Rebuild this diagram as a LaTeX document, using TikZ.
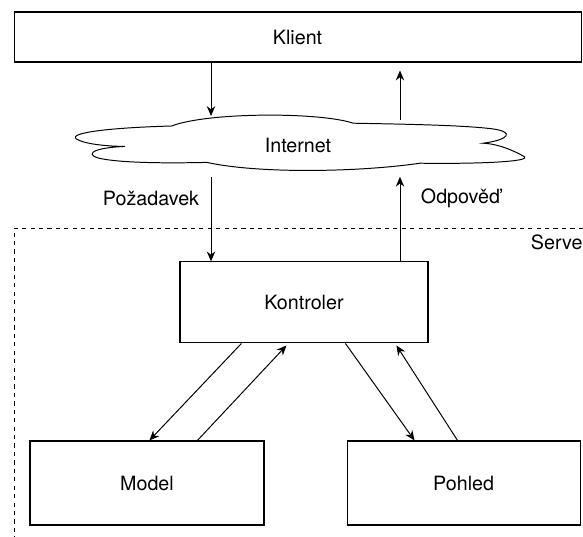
\documentclass[tikz,border=0pt]{standalone}
\usepackage{fontspec}
\setmainfont{TeX Gyre Heros}
\usetikzlibrary{arrows.meta,positioning,calc}

\begin{document}
\begin{tikzpicture}[
	box/.style={draw, line width=0.8pt, font=\fontsize{14}{17}\selectfont},
	arr/.style={-{Stealth[length=7pt,width=6pt]}, line width=0.7pt},
	lbl/.style={font=\fontsize{14}{17}\selectfont}]

	\useasboundingbox (0,0) rectangle (14.575,-13.425);

	% Client
	\node[box, minimum width=14.175cm, minimum height=1.25cm] (klient) at (7.44,-0.925) {Klient};

	% Cloud
	\draw[line width=0.7pt] (4.29,-3.15) .. controls (2.5,-3.2) and (1.6,-3.35) .. (1.96,-3.5)
		.. controls (2.2,-3.62) and (2.8,-3.66) .. (3.125,-3.66)
		.. controls (2.2,-3.7) and (2.1,-3.9) .. (2.6,-3.98)
		.. controls (3.2,-4.08) and (4.3,-4.08) .. (5.17,-4.06)
		.. controls (6.5,-4.35) and (9,-4.3) .. (10.5,-4.08)
		.. controls (11.8,-4.1) and (13.4,-4.05) .. (13.08,-3.9)
		.. controls (12.9,-3.8) and (12.5,-3.6) .. (12.08,-3.58)
		.. controls (12.7,-3.5) and (12.9,-3.3) .. (12.3,-3.22)
		.. controls (11.5,-3.12) and (9.8,-3.1) .. (8.83,-3.08)
		.. controls (8,-2.8) and (5.2,-2.8) .. (4.29,-3.15) -- cycle;
	\node[lbl] (internet) at (7.45,-3.625) {Internet};

	\coordinate (reqtop) at (5.275,-2.9);
	\coordinate (reqbot) at (5.275,-4.42);
	\coordinate (resptop) at (10,-3.0);
	\coordinate (respbot) at (10,-4.42);

	\draw[arr] (klient.south -| reqtop) -- (reqtop);
	\draw[arr] (resptop) -- ($(klient.south -| resptop)+(0,-0.2)$);

	% Server
	\draw[dashed, line width=0.5pt] (14.575,-5.7) -- (0.35,-5.7) -- (0.35,-13.425);
	\node[lbl, anchor=west] (server) at (13.15,-6.05) {Serve};

	\node[box, minimum width=6.2cm, minimum height=2.025cm] (kontroler) at (7.6,-7.56) {Kontroler};
	\node[box, minimum width=5.85cm, minimum height=2.1cm] (model) at (3.675,-12.075) {Model};
	\node[box, minimum width=5.825cm, minimum height=2.1cm] (pohled) at (11.59,-12.075) {Pohled};

	\node[lbl, anchor=east] (pozadavek) at (5.1,-4.95) {Požadavek};
	\node[lbl, anchor=west] (odpoved) at (10.4,-4.95) {Odpověď};

	\draw[arr] (reqbot) -- (kontroler.north -| reqbot);
	\draw[arr] (kontroler.north -| respbot) -- (respbot);

	% MVC
	\draw[arr] ($(kontroler.south west)+(1.55,0)$) -- ($(model.north west)+(3.0,0)$);
	\draw[arr] ($(model.north west)+(4.2,0)$) -- ($(kontroler.south west)+(2.675,-0.05)$);
	\draw[arr] ($(kontroler.south west)+(4.15,0)$) -- ($(pohled.north west)+(1.7,0)$);
	\draw[arr] ($(pohled.north west)+(2.775,0)$) -- ($(kontroler.south west)+(5.425,-0.05)$);
\end{tikzpicture}
\end{document}
